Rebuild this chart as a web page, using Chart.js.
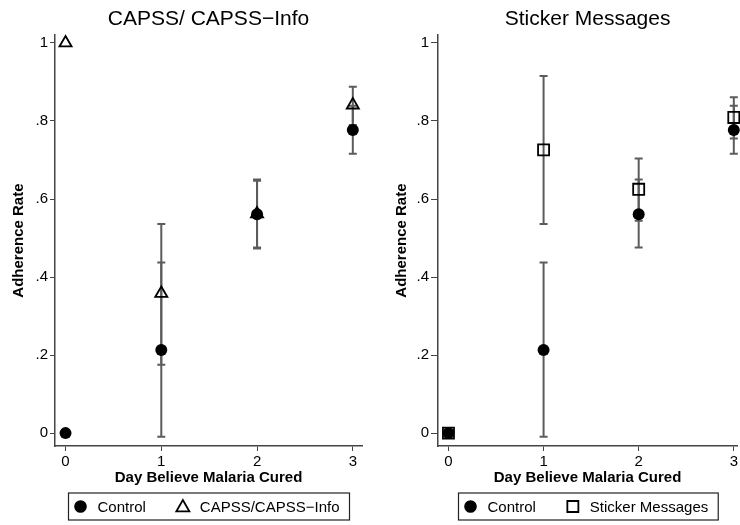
<!DOCTYPE html>
<html>
<head>
<meta charset="utf-8">
<script src="https://cdn.jsdelivr.net/npm/chart.js@4.4.1/dist/chart.umd.min.js"></script>
<style>
  body { margin: 0; background: #fff; }
  .panel { position: absolute; top: 0; width: 370px; height: 525px; }
</style>
</head>
<body>
<div class="panel" style="left:0"><canvas id="capssChart" width="370" height="525"></canvas></div>
<div class="panel" style="left:370px"><canvas id="stickerChart" width="370" height="525"></canvas></div>
<script>
const days = [0, 1, 2, 3];
const yTicks = [0, 0.2, 0.4, 0.6, 0.8, 1];

const controlRate = [0, 0.213, 0.561, 0.777];
const controlLow = [null, -0.009, 0.476, 0.716];
const controlHigh = [null, 0.437, 0.65, 0.839];

const capssRate = [1, 0.358, 0.562, 0.841];
const capssLow = [null, 0.175, 0.473, 0.79];
const capssHigh = [null, 0.536, 0.647, 0.888];

const stickerRate = [0, 0.726, 0.625, 0.809];
const stickerLow = [null, 0.536, 0.544, 0.755];
const stickerHigh = [null, 0.915, 0.704, 0.861];

Chart.defaults.font.family = "'Liberation Sans', Arial, sans-serif";
Chart.defaults.color = "#000";

const axisColor = "#444";

// vertical CI bars with caps, under the markers
const errorBars = {
  id: "errorBars",
  beforeDatasetsDraw(chart) {
    const { ctx, scales: { x, y } } = chart;
    ctx.save();
    ctx.strokeStyle = "#5c5c5c";
    ctx.lineWidth = 2;
    chart.data.datasets.forEach((ds) => {
      ds.data.forEach((pt, i) => {
        const lo = ds.errLow[i];
        const hi = ds.errHigh[i];
        if (lo == null) return;
        const px = x.getPixelForValue(pt.x);
        const y1 = y.getPixelForValue(lo);
        const y2 = y.getPixelForValue(hi);
        ctx.beginPath();
        ctx.moveTo(px, y1); ctx.lineTo(px, y2);
        ctx.moveTo(px - 4, y1); ctx.lineTo(px + 4, y1);
        ctx.moveTo(px - 4, y2); ctx.lineTo(px + 4, y2);
        ctx.stroke();
      });
    });
    ctx.restore();
  }
};

function drawMarker(ctx, style, x, y) {
  ctx.fillStyle = "#000";
  ctx.strokeStyle = "#000";
  ctx.lineWidth = 1.8;
  ctx.beginPath();
  if (style === "circle") {
    ctx.arc(x, y, 6.3, 0, Math.PI * 2);
    ctx.fill();
  } else if (style === "triangle") {
    ctx.moveTo(x, y - 6.5);
    ctx.lineTo(x + 6.5, y + 4.8);
    ctx.lineTo(x - 6.5, y + 4.8);
    ctx.closePath();
    ctx.stroke();
  } else {
    ctx.rect(x - 5.5, y - 5.5, 11, 11);
    ctx.stroke();
  }
}

// boxed legend under the x axis title
const boxLegend = {
  id: "boxLegend",
  afterDraw(chart, args, opts) {
    const { ctx, chartArea } = chart;
    ctx.save();
    ctx.font = "15px 'Liberation Sans', Arial, sans-serif";
    const items = chart.data.datasets.map((ds) => ({
      label: ds.label,
      style: ds.pointStyle,
      w: ctx.measureText(ds.label).width
    }));
    const padL = 12, toText = 17, gap = 37, padR = 10;
    let width = padL + padR + gap * (items.length - 1);
    items.forEach((it) => { width += toText + it.w; });
    const left = Math.round((chartArea.left + chartArea.right) / 2 - width / 2) + 0.5;
    ctx.strokeStyle = "#222";
    ctx.lineWidth = 1.2;
    ctx.strokeRect(left, opts.top, width, opts.height);
    const cy = opts.top + opts.height / 2;
    let cx = left + padL;
    items.forEach((it) => {
      drawMarker(ctx, it.style, cx, cy);
      ctx.fillStyle = "#000";
      ctx.textAlign = "left";
      ctx.textBaseline = "middle";
      ctx.fillText(it.label, cx + toText, cy + 1);
      cx += toText + it.w + gap;
    });
    ctx.restore();
  }
};

function points(rates) {
  return days.map((d, i) => ({ x: d, y: rates[i] }));
}

const controlSeries = () => ({
  label: "Control",
  data: points(controlRate),
  errLow: controlLow,
  errHigh: controlHigh,
  pointStyle: "circle",
  pointRadius: 6,
  backgroundColor: "#000",
  borderColor: "#000",
  borderWidth: 0,
  order: 1,
  clip: false
});

function makeChart(id, title, datasets, frame) {
  return new Chart(document.getElementById(id), {
    type: "scatter",
    data: { datasets },
    options: {
      responsive: false,
      animation: false,
      devicePixelRatio: 1,
      layout: { autoPadding: false, padding: { left: 0, right: frame.right, top: 0, bottom: 37 } },
      plugins: {
        legend: { display: false },
        tooltip: { enabled: false },
        title: {
          display: true,
          text: title,
          fullSize: false,
          color: "#000",
          font: { size: 21, weight: "normal", lineHeight: 1.15 },
          padding: { top: 7, bottom: 4 }
        },
        boxLegend: { top: 493, height: 27 }
      },
      scales: {
        x: {
          type: "linear",
          min: -0.11,
          max: frame.xMax,
          afterBuildTicks: (s) => { s.ticks = days.map((v) => ({ value: v })); },
          afterFit: (s) => { s.height = 42; },
          grid: { drawOnChartArea: false, drawTicks: true, tickLength: 5, color: axisColor },
          border: { display: true, color: axisColor, width: 1.5 },
          ticks: { font: { size: 15 }, padding: 2, color: "#000" },
          title: {
            display: true,
            text: "Day Believe Malaria Cured",
            color: "#000",
            font: { size: 15, weight: "bold" },
            padding: { top: 0, bottom: 1 }
          }
        },
        y: {
          type: "linear",
          min: -0.033,
          max: 1.02,
          afterBuildTicks: (s) => { s.ticks = yTicks.map((v) => ({ value: v })); },
          afterFit: (s) => { s.width = frame.yWidth; },
          grid: { drawOnChartArea: false, drawTicks: true, tickLength: frame.tick, color: axisColor },
          border: { display: true, color: axisColor, width: 1.5 },
          ticks: {
            font: { size: 15 },
            padding: 2,
            color: "#000",
            callback: (v) => (v === 0 ? "0" : v === 1 ? "1" : v.toFixed(1).replace(/^0/, ""))
          },
          title: {
            display: true,
            text: "Adherence Rate",
            color: "#000",
            font: { size: 15, weight: "bold" },
            padding: { top: frame.titlePad, bottom: 0 }
          }
        }
      }
    },
    plugins: [errorBars, boxLegend]
  });
}

makeChart("capssChart", "CAPSS/ CAPSS\u2212Info", [
  controlSeries(),
  {
    label: "CAPSS/CAPSS\u2212Info",
    data: points(capssRate),
    errLow: capssLow,
    errHigh: capssHigh,
    pointStyle: "triangle",
    pointRadius: 7,
    backgroundColor: "rgba(0,0,0,0)",
    borderColor: "#000",
    borderWidth: 1.8,
    order: 0,
    clip: false
  }
], { right: 8, xMax: 3.096, yWidth: 55, tick: 5, titlePad: 9.5 });

makeChart("stickerChart", "Sticker Messages", [
  controlSeries(),
  {
    label: "Sticker Messages",
    data: points(stickerRate),
    errLow: stickerLow,
    errHigh: stickerHigh,
    pointStyle: "rect",
    pointRadius: 7.8,
    backgroundColor: "rgba(0,0,0,0)",
    borderColor: "#000",
    borderWidth: 1.8,
    order: 0,
    clip: false
  }
], { right: 0, xMax: 3.035, yWidth: 68, tick: 7, titlePad: 23 });
</script>
</body>
</html>
